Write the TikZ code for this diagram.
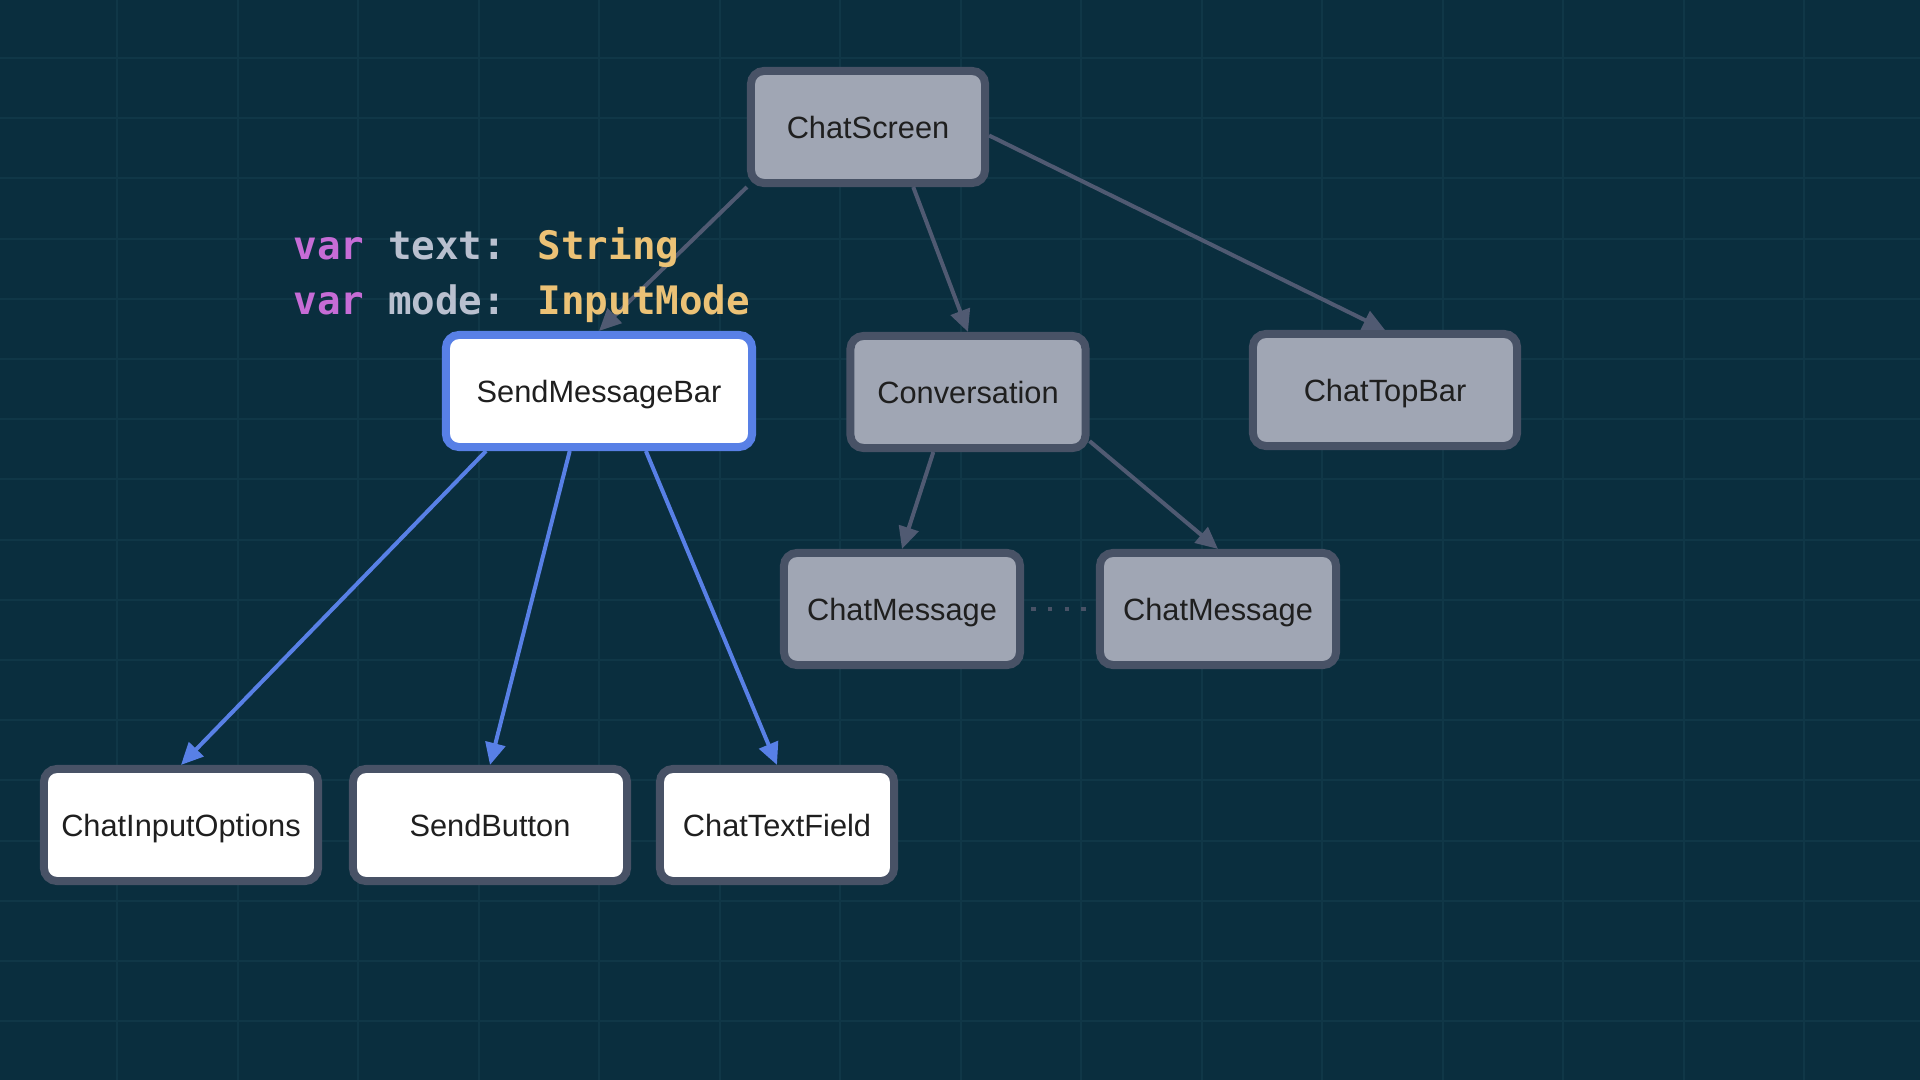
\documentclass[tikz,border=0pt]{standalone}
\usepackage{fontspec}
\setmainfont{Liberation Sans}
\newfontfamily\codefont{DejaVu Sans Mono}
\usetikzlibrary{arrows.meta}

\definecolor{bgblue}{RGB}{10,46,62}
\definecolor{gridrule}{RGB}{16,55,71}
\definecolor{boxgray}{RGB}{160,166,180}
\definecolor{rimgray}{RGB}{72,82,102}
\definecolor{linkgray}{RGB}{80,90,114}
\definecolor{selblue}{RGB}{88,128,230}
\definecolor{kwpurple}{RGB}{198,108,214}
\definecolor{idgray}{RGB}{185,192,207}
\definecolor{typeyellow}{RGB}{236,194,118}

\tikzset{
  comp/.style={draw=rimgray, line width=0.08cm, rounded corners=0.13cm, fill=boxgray,
    minimum height=1.12cm, font=\fontsize{8.75}{10}\selectfont, text=black!88,
    text height=6.3pt, text depth=0pt},
  leaf/.style={comp, fill=white},
  picked/.style={comp, fill=white, draw=selblue},
  link/.style={draw=linkgray, line width=0.04cm, -{Triangle[length=0.22cm,width=0.2cm]}},
  bluelink/.style={link, draw=selblue},
  dotlink/.style={draw=rimgray, line width=0.045cm, dash pattern=on 0.045cm off 0.122cm,
    shorten <=0.07cm, shorten >=0.1cm},
  code/.style={anchor=base west, inner sep=0pt, font=\codefont\bfseries\fontsize{11.15}{13}\selectfont}
}

\begin{document}
\begin{tikzpicture}[x=0.01cm,y=-0.01cm]
\useasboundingbox (0,0) rectangle (1920,1080);
\fill [bgblue] (0,0) rectangle (1920,1080);
% grid
\foreach \k in {0,...,14}
  \draw [gridrule,line width=0.02cm] (117+\k*120.5,0) -- ++(0,1080);
\foreach \k in {0,...,16}
  \draw [gridrule,line width=0.02cm] (0,58+\k*60.2) -- ++(1920,0);

% components
\node [comp, minimum width=2.34cm] (screen) at (868,127) {ChatScreen};
\node [picked, minimum width=3.06cm] (sendbar) at (599,391) {SendMessageBar};
\node [comp, minimum width=2.35cm] (convo) at (968,392) {Conversation};
\node [comp, minimum width=2.64cm] (topbar) at (1385,390) {ChatTopBar};
\node [comp, minimum width=2.36cm] (msga) at (902,609) {ChatMessage};
\node [comp, minimum width=2.36cm] (msgb) at (1218,609) {ChatMessage};
\node [leaf, minimum width=2.74cm] (options) at (181,825) {ChatInputOptions};
\node [leaf, minimum width=2.74cm] (sendbtn) at (490,825) {SendButton};
\node [leaf, minimum width=2.34cm] (field) at (777,825) {ChatTextField};

% links
\draw [link] (screen.south west) -- (sendbar.north);
\draw [link] (screen.-53) -- (convo.north);
\draw [link] (screen.-4) -- (topbar.north);
\draw [link] (convo.-120) -- (msga.north);
\draw [link] (convo.-22) -- (msgb.north);
\draw [dotlink] (msga.east) -- (msgb.west);
\draw [bluelink] (sendbar.-152) -- (options.north);
\draw [bluelink] (sendbar.-116) -- (sendbtn.north);
\draw [bluelink] (sendbar.-52) -- (field.north);

% state of SendMessageBar
\node [code] (decla) at (293,260) {\color{kwpurple}var \color{idgray}text: \color{typeyellow}String};
\node [code] (declb) at (293,315) {\color{kwpurple}var \color{idgray}mode: \color{typeyellow}InputMode};
\end{tikzpicture}
\end{document}
